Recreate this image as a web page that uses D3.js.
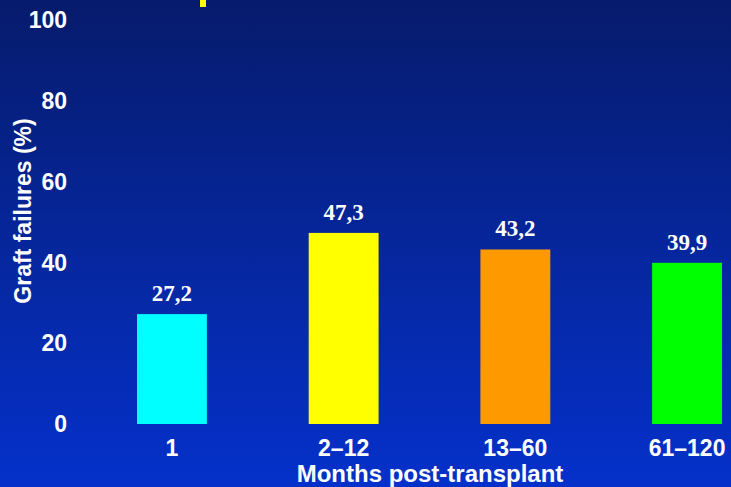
<!DOCTYPE html>
<html>
<head>
<meta charset="UTF-8">
<script src="https://d3js.org/d3.v7.min.js"></script>
<style>
  body { margin: 0; }
  svg { display: block; }
  text { fill: #fff; font-family: "Liberation Sans", Arial, sans-serif; font-weight: bold; }
</style>
</head>
<body>
<svg width="731" height="487"></svg>
<script>
const categories = ["1", "2\u201312", "13\u201360", "61\u2013120"];
const values = [27.2, 47.3, 43.2, 39.9];
const colors = ["#00ffff", "#ffff00", "#ff9900", "#00ff00"];
const yTicks = [0, 20, 40, 60, 80, 100];

const svg = d3.select("svg");
const W = 731, H = 487;

// background gradient
const grad = svg.append("defs").append("linearGradient")
  .attr("id", "bg").attr("x1", 0).attr("y1", 0).attr("x2", 0).attr("y2", 1);
grad.append("stop").attr("offset", "0%").attr("stop-color", "#061b6c");
grad.append("stop").attr("offset", "100%").attr("stop-color", "#0531cb");
svg.append("rect").attr("width", W).attr("height", H).attr("fill", "url(#bg)");

// bit of yellow title stroke cut off at top
svg.append("rect").attr("x", 200).attr("y", 0).attr("width", 6).attr("height", 7).attr("fill", "#ffff00");

const x = d3.scaleBand().domain(categories).range([86, 773]).paddingInner(0.593).paddingOuter(0.297);
const y = d3.scaleLinear().domain([0, 100]).range([424, 20]);

// y tick labels
svg.selectAll(".ytick").data(yTicks).enter().append("text")
  .attr("x", 67).attr("y", d => y(d)).attr("dy", "0.36em")
  .attr("text-anchor", "end").style("font-size", "23px")
  .text(d => d);

svg.append("text")
  .attr("transform", "translate(31," + 211 + ") rotate(-90)")
  .attr("text-anchor", "middle").style("font-size", "23px")
  .text("Graft failures (%)");

// bars
svg.selectAll(".bar").data(values).enter().append("rect")
  .attr("x", (d, i) => x(categories[i]))
  .attr("y", d => y(d))
  .attr("width", x.bandwidth())
  .attr("height", d => y(0) - y(d))
  .attr("fill", (d, i) => colors[i]);

// value labels
svg.selectAll(".val").data(values).enter().append("text")
  .attr("x", (d, i) => x(categories[i]) + x.bandwidth() / 2)
  .attr("y", d => y(d) - 13)
  .attr("text-anchor", "middle")
  .style("font-family", "'Liberation Serif', 'Times New Roman', serif")
  .style("font-size", "23px")
  .text(d => d.toFixed(1).replace(".", ","));

// category labels
svg.selectAll(".cat").data(categories).enter().append("text")
  .attr("x", d => x(d) + x.bandwidth() / 2)
  .attr("y", 456)
  .attr("text-anchor", "middle").style("font-size", "23px")
  .text(d => d);

svg.append("text")
  .attr("x", 430).attr("y", 482)
  .attr("text-anchor", "middle").style("font-size", "24px")
  .text("Months post-transplant");
</script>
</body>
</html>
